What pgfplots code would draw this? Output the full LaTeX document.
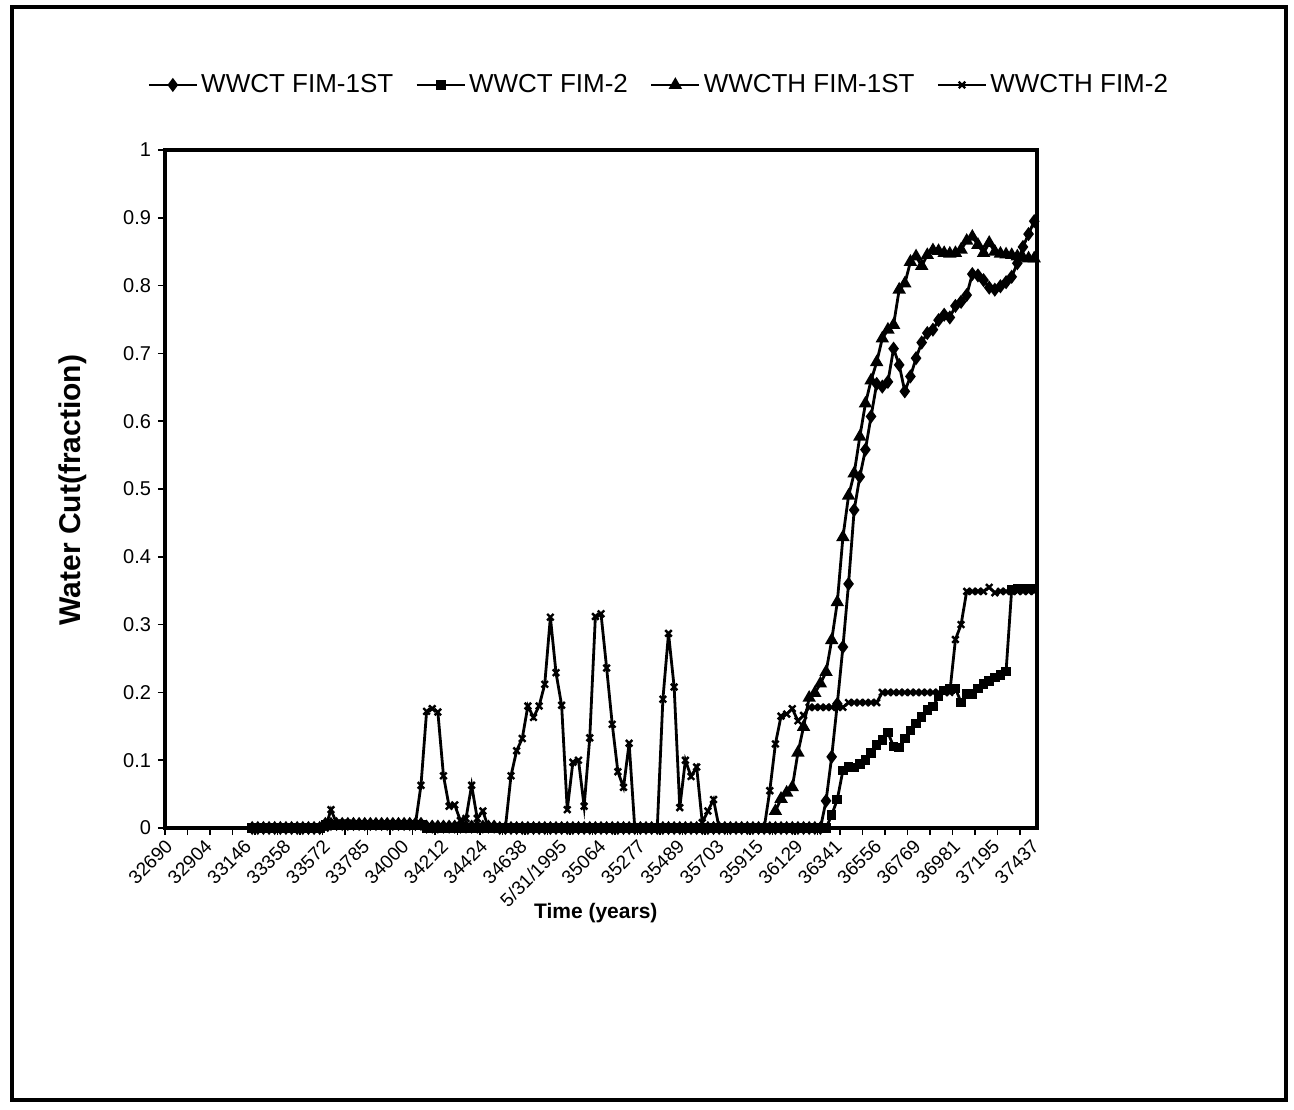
\documentclass[border=0pt]{standalone}
\usepackage{fontspec}
\setmainfont{Liberation Sans}
\usepackage{pgfplots}
\pgfplotsset{compat=1.18}
\begin{document}
\begin{tikzpicture}[x=1pt,y=1pt]
\useasboundingbox (0,0) rectangle (647,554.5);
\draw[line width=2pt] (6,4.5) rectangle (643,550.75);
\begin{axis}[
  at={(82.5pt,140.5pt)}, anchor=south west,
  scale only axis, width=436pt, height=339pt,
  xmin=-0.5, xmax=154.5, ymin=0, ymax=1,
  clip=false,
  axis line style={line width=2.2pt},
  tick align=outside,
  major tick length=3.5pt,
  minor tick length=3.5pt,
  tick style={line width=0.8pt, black},
  xtick={0,7,14,21,28,35,42,49,56,63,70,77,84,91,98,105,112,119,126,133,140,147,154},
  xticklabels={32690,32904,33146,33358,33572,33785,34000,34212,34424,34638,5/31/1995,35064,35277,35489,35703,35915,36129,36341,36556,36769,36981,37195,37437},
  major x tick style={draw=none},
  minor xtick={-0.5,3.5,...,151.5},
  xticklabel style={rotate=45, anchor=north east, yshift=3.5pt, xshift=1pt, font=\fontsize{9.5}{11}\selectfont},
  ytick={0,0.1,0.2,0.3,0.4,0.5,0.6,0.7,0.8,0.9,1},
  yticklabels={0,0.1,0.2,0.3,0.4,0.5,0.6,0.7,0.8,0.9,1},
  yticklabel style={font=\fontsize{10}{12}\selectfont},
  ytick pos=left, xtick pos=bottom,
  xlabel={\bfseries Time (years)},
  xlabel style={at={(axis description cs:0.494,-0.126)}, anchor=center, font=\fontsize{10.5}{12}\selectfont},
  ylabel={\bfseries Water Cut(fraction)},
  ylabel style={at={(axis description cs:-0.1055,0.4985)}, anchor=center, rotate=0, font=\fontsize{15}{17}\selectfont},
  legend columns=4,
  legend style={at={(axis description cs:-0.0206,1.0959)}, anchor=west, draw=none, fill=none,
    font=\fontsize{13}{15}\selectfont, inner sep=0pt, nodes={inner xsep=1.5pt},
    /tikz/every even column/.append style={column sep=9.5pt}},
  legend image code/.code={\draw[mark repeat=2,mark phase=2,#1] plot coordinates {(0pt,0pt) (12pt,0pt) (24pt,0pt)};},
  every axis plot/.append style={black, line width=1.4pt},
]
% WWCT FIM-1ST
\addplot[mark=diamond*, mark size=2.4pt, mark options={solid, fill=black}] coordinates {
(15,0)(16,0)(17,0)(18,0)(19,0)(20,0)(21,0)(22,0)(23,0)(24,0)(25,0)(26,0)(27,0)
(28,0.006)(29,0.006)(30,0.006)(31,0.006)(32,0.006)(33,0.006)(34,0.006)(35,0.006)(36,0.006)(37,0.006)(38,0.006)(39,0.006)(40,0.006)(41,0.006)(42,0.006)(43,0.006)(44,0.006)(45,0.006)
(46,0.002)(47,0.002)(48,0.002)(49,0.002)(50,0.002)(51,0.002)(52,0.002)(53,0.002)(54,0.002)(55,0.002)(56,0.002)(57,0.002)(58,0.002)
(59,0)(60,0)(61,0)(62,0)(63,0)(64,0)(65,0)(66,0)(67,0)(68,0)(69,0)(70,0)(71,0)(72,0)(73,0)(74,0)(75,0)(76,0)(77,0)(78,0)(79,0)(80,0)(81,0)(82,0)(83,0)(84,0)(85,0)(86,0)(87,0)(88,0)(89,0)(90,0)(91,0)(92,0)(93,0)(94,0)(95,0)(96,0)(97,0)(98,0)(99,0)(100,0)(101,0)(102,0)(103,0)(104,0)(105,0)(106,0)(107,0)(108,0)(109,0)(110,0)(111,0)(112,0)(113,0)(114,0)(115,0)(116,0)
(117,0.04)(118,0.105)(119,0.183)(120,0.267)(121,0.36)(122,0.469)(123,0.518)(124,0.558)(125,0.607)(126,0.655)(127,0.651)(128,0.658)(129,0.707)(130,0.683)(131,0.644)(132,0.666)(133,0.693)(134,0.716)(135,0.73)(136,0.735)(137,0.749)(138,0.757)(139,0.753)(140,0.77)(141,0.776)(142,0.786)(143,0.817)(144,0.815)(145,0.808)(146,0.797)(147,0.794)(148,0.799)(149,0.805)(150,0.813)(151,0.833)(152,0.857)(153,0.876)(154,0.895)
};
\addlegendentry{WWCT FIM-1ST}
% WWCT FIM-2
\addplot[mark=square*, mark size=1.7pt, mark options={solid, fill=black}] coordinates {
(15,0)(16,0)(17,0)(18,0)(19,0)(20,0)(21,0)(22,0)(23,0)(24,0)(25,0)(26,0)(27,0)
(28,0.004)(29,0.004)(30,0.004)(31,0.004)(32,0.004)(33,0.004)(34,0.004)(35,0.004)(36,0.004)(37,0.004)(38,0.004)(39,0.004)(40,0.004)(41,0.004)(42,0.004)(43,0.004)(44,0.004)(45,0.004)
(46,0)(47,0)(48,0)(49,0)(50,0)(51,0)(52,0)(53,0)(54,0)(55,0)(56,0)(57,0)(58,0)(59,0)(60,0)(61,0)(62,0)(63,0)(64,0)(65,0)(66,0)(67,0)(68,0)(69,0)(70,0)(71,0)(72,0)(73,0)(74,0)(75,0)(76,0)(77,0)(78,0)(79,0)(80,0)(81,0)(82,0)(83,0)(84,0)(85,0)(86,0)(87,0)(88,0)(89,0)(90,0)(91,0)(92,0)(93,0)(94,0)(95,0)(96,0)(97,0)(98,0)(99,0)(100,0)(101,0)(102,0)(103,0)(104,0)(105,0)(106,0)(107,0)(108,0)(109,0)(110,0)(111,0)(112,0)(113,0)(114,0)(115,0)(116,0)(117,0)
(118,0.019)(119,0.042)(120,0.085)(121,0.09)(122,0.089)(123,0.094)(124,0.1)(125,0.111)(126,0.122)(127,0.13)(128,0.141)(129,0.12)(130,0.119)(131,0.132)(132,0.144)(133,0.154)(134,0.164)(135,0.174)(136,0.179)(137,0.194)(138,0.203)(139,0.205)(140,0.206)(141,0.185)(142,0.198)(143,0.198)(144,0.206)(145,0.212)(146,0.217)(147,0.222)(148,0.226)(149,0.231)(150,0.352)(151,0.353)(152,0.353)(153,0.353)(154,0.353)
};
\addlegendentry{WWCT FIM-2}
% WWCTH FIM-1ST
\addplot[mark=triangle*, mark size=2.5pt, mark options={solid, fill=black}] coordinates {
(108,0.025)(109,0.043)(110,0.052)(111,0.06)(112,0.111)(113,0.149)(114,0.192)(115,0.199)(116,0.213)(117,0.23)(118,0.277)(119,0.333)(120,0.429)(121,0.49)(122,0.523)(123,0.577)(124,0.626)(125,0.66)(126,0.687)(127,0.722)(128,0.735)(129,0.742)(130,0.794)(131,0.803)(132,0.835)(133,0.843)(134,0.829)(135,0.845)(136,0.852)(137,0.851)(138,0.848)(139,0.847)(140,0.848)(141,0.853)(142,0.866)(143,0.872)(144,0.86)(145,0.848)(146,0.863)(147,0.85)(148,0.847)(149,0.846)(150,0.845)(151,0.843)(152,0.841)(153,0.84)(154,0.84)
};
\addlegendentry{WWCTH FIM-1ST}
% WWCTH FIM-2
\addplot[mark=x, mark size=2.3pt, mark options={solid, line width=1.2pt}] coordinates {
(15,0)(16,0)(17,0)(18,0)(19,0)(20,0)(21,0)(22,0)(23,0)(24,0)(25,0)(26,0)(27,0)(28,0)
(29,0.027)(30,0.007)(31,0.007)(32,0.007)(33,0.005)(34,0.005)(35,0.005)(36,0.005)(37,0.005)(38,0.005)(39,0.005)(40,0.005)(41,0.005)(42,0.005)(43,0.005)(44,0.005)
(45,0.063)(46,0.172)(47,0.176)(48,0.171)(49,0.077)(50,0.032)(51,0.034)(52,0.011)(53,0.014)(54,0.063)(55,0.014)(56,0.025)
(57,0)(58,0)(59,0)(60,0)
(61,0.077)(62,0.114)(63,0.132)(64,0.18)(65,0.163)(66,0.18)(67,0.212)(68,0.311)(69,0.229)(70,0.181)(71,0.027)(72,0.097)(73,0.1)(74,0.032)(75,0.133)(76,0.312)(77,0.316)(78,0.236)(79,0.153)(80,0.083)(81,0.06)(82,0.125)
(83,0)(84,0)(85,0)(86,0)(87,0)
(88,0.19)(89,0.287)(90,0.208)(91,0.03)(92,0.1)(93,0.076)(94,0.09)(95,0.008)(96,0.025)(97,0.042)
(98,0)(99,0)(100,0)(101,0)(102,0)(103,0)(104,0)(105,0)(106,0)
(107,0.055)(108,0.124)(109,0.165)(110,0.168)(111,0.176)(112,0.158)(113,0.166)
(114,0.178)(115,0.178)(116,0.178)(117,0.178)(118,0.178)(119,0.178)(120,0.178)
(121,0.185)(122,0.185)(123,0.185)(124,0.185)(125,0.185)(126,0.185)
(127,0.2)(128,0.2)(129,0.2)(130,0.2)(131,0.2)(132,0.2)(133,0.2)(134,0.2)(135,0.2)(136,0.2)(137,0.2)(138,0.2)(139,0.2)
(140,0.278)(141,0.3)(142,0.349)(143,0.349)(144,0.349)(145,0.349)(146,0.355)(147,0.347)(148,0.349)(149,0.349)(150,0.349)(151,0.349)(152,0.349)(153,0.349)(154,0.349)
};
\addlegendentry{WWCTH FIM-2}
\end{axis}
\end{tikzpicture}
\end{document}
